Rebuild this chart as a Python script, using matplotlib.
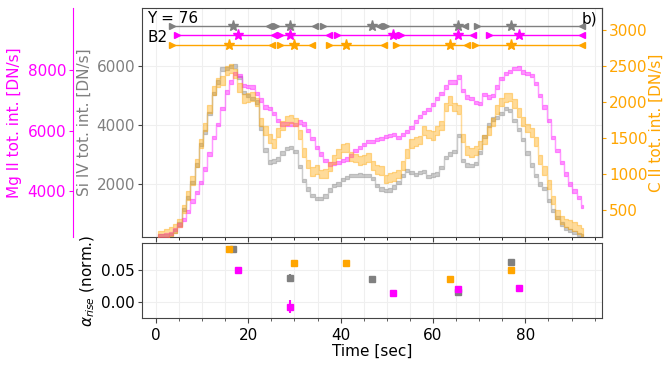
import numpy as np
import matplotlib
matplotlib.use("Agg")
import matplotlib.pyplot as plt
from matplotlib.ticker import MultipleLocator, FormatStrFormatter
import matplotlib.transforms as mtransforms

# ---------------- data ----------------
dt = 0.93
n_pts = 100
time = 0.465 + dt * np.arange(n_pts)

si_iv = [240, 240, 250, 300, 410, 650, 1150, 1550, 2050, 2650,
         3350, 3760, 4380, 5060, 5460, 5900, 5920, 5980, 6000, 5600,
         5100, 5000, 4900, 4780, 3900, 3150, 2750, 2780, 2850, 3050,
         3200, 3250, 3100, 2600, 2110, 1830, 1620, 1500, 1520, 1600,
         1800, 1950, 2000, 2150, 2230, 2280, 2300, 2310, 2300, 2290,
         2200, 1950, 1830, 1770, 1800, 1900, 2060, 2300, 2450, 2400,
         2330, 2380, 2420, 2260, 2310, 2340, 2560, 2900, 3020, 3100,
         3640, 2800, 2650, 2630, 2700, 3080, 3600, 4000, 4200, 4250,
         4400, 4550, 4500, 4150, 3850, 3500, 3050, 2650, 2300, 2000,
         1850, 1450, 1100, 880, 650, 500, 430, 360, 280, 240]

c_ii = [150, 150, 170, 200, 240, 320, 510, 700, 905, 1150,
        1420, 1650, 1905, 2160, 2270, 2300, 2440, 2465, 2395, 2200,
        2045, 2060, 2080, 2000, 1720, 1600, 1490, 1420, 1580, 1670,
        1740, 1765, 1720, 1550, 1300, 1140, 1030, 1060, 1000, 1010,
        1100, 1200, 1280, 1360, 1370, 1240, 1220, 1190, 1200, 1230,
        1120, 1060, 1050, 930, 950, 960, 1000, 1120, 1280, 1420,
        1450, 1470, 1600, 1555, 1530, 1600, 1670, 1930, 2020, 1930,
        1900, 1500, 1330, 1300, 1330, 1400, 1480, 1600, 1720, 1900,
        2000, 2060, 2070, 1980, 1850, 1730, 1640, 1580, 1450, 1200,
        1050, 850, 640, 440, 360, 320, 300, 270, 230, 190]

mg_ii = [2550, 2550, 2570, 2620, 2760, 2900, 3090, 3350, 3690, 3965,
         4295, 4740, 5230, 5780, 6200, 6715, 7260, 7590, 7870, 7800,
         7480, 7450, 7430, 7210, 7000, 6770, 6715, 6550, 6330, 6220,
         6220, 6210, 6200, 6275, 6220, 6000, 5730, 5450, 5230, 5010,
         4900, 4920, 4955, 5010, 5065, 5175, 5350, 5450, 5550, 5650,
         5650, 5700, 5730, 5800, 5835, 5860, 5780, 5870, 5965, 6100,
         6300, 6450, 6600, 6700, 6850, 7045, 7210, 7425, 7590, 7590,
         7755, 7320, 7100, 7045, 6930, 6880, 7175, 7100, 7150, 7425,
         7700, 7870, 7945, 8035, 8050, 7920, 7870, 7810, 7540, 7150,
         6770, 6330, 5780, 5340, 4955, 4575, 4245, 4020, 3800, 3500]

si_iv_err = 55
c_ii_err = 60
mg_ii_err = 55

# intervals (start, peak, end) in seconds
si_start = [3.5, 26.0, 36.1, 49.9, 69.5]
si_peak = [16.7, 29.0, 46.7, 65.4, 76.8]
si_end = [24.5, 34.5, 48.4, 67.0, 92.3]

mg_start = [4.5, 26.9, 39.3, 53.1, 72.2]
mg_peak = [17.7, 29.0, 51.4, 65.4, 78.6]
mg_end = [25.5, 37.4, 51.8, 68.7, 92.3]

c_start = [3.5, 26.9, 37.5, 52.0, 69.1]
c_peak = [15.9, 29.9, 41.2, 63.6, 76.8]
c_end = [25.1, 33.9, 49.3, 67.3, 92.3]

# alpha_rise values at peaks
si_alpha = [0.0835, 0.038, 0.036, 0.016, 0.063]
si_alpha_err = [0.002, 0.007, 0.002, 0.002, 0.004]
c_alpha = [0.0835, 0.062, 0.062, 0.037, 0.050]
c_alpha_err = [0.001, 0.001, 0.005, 0.001, 0.001]
mg_alpha = [0.050, -0.007, 0.014, 0.021, 0.022]
mg_alpha_err = [0.001, 0.010, 0.001, 0.002, 0.001]

# ---------------- style ----------------
GRAY = "#808080"
MAG = "#ff00ff"
ORA = "#ffa500"
FRAME = "#444444"
FS = 11
TL = 3.0   # tick length
TP = 2.0   # tick pad

plt.rcParams["font.family"] = "DejaVu Sans"
plt.rcParams["font.size"] = FS

fig = plt.figure(figsize=(6.64, 3.66), dpi=100)
ax = fig.add_axes([142 / 664, (366 - 237) / 366, 460 / 664, 229 / 366])
axb = fig.add_axes([142 / 664, (366 - 318) / 366, 460 / 664, 75 / 366], sharex=ax)

ax_mg = ax.twinx()
ax_c = ax.twinx()


def band(a, y, err, color, z):
    y = np.asarray(y, float)
    a.fill_between(time, y - err, y + err, step="mid", facecolor=color,
                   alpha=0.4, edgecolor=color, linewidth=0.9, zorder=z)


band(ax, si_iv, si_iv_err, GRAY, 2)
band(ax_c, c_ii, c_ii_err, ORA, 2)
band(ax_mg, mg_ii, mg_ii_err, MAG, 2)

ax.set_xlim(-3, 96.6)
ax.set_ylim(208, 7962)
ax_mg.set_ylim(2507, 10020)
ax_c.set_ylim(123, 3307)

ax_mg.set_zorder(ax.get_zorder() + 1)
ax_c.set_zorder(ax.get_zorder() + 2)
ax_mg.patch.set_visible(False)
ax_c.patch.set_visible(False)

# Si IV axis (left, gray)
ax.set_yticks([2000, 4000, 6000])
ax.tick_params(axis="y", colors=GRAY, labelsize=FS, length=TL, pad=TP)
ax.tick_params(axis="y", which="both", color=FRAME)
ax.set_ylabel("Si IV tot. int. [DN/s]", color=GRAY, fontsize=FS, labelpad=3)
ax.xaxis.set_major_locator(MultipleLocator(20))
ax.xaxis.set_minor_locator(MultipleLocator(5))
ax.tick_params(axis="x", labelbottom=False, color=FRAME)
ax.grid(True, which="major", axis="y", color="#efefef", lw=0.8)
ax.grid(True, which="both", axis="x", color="#efefef", lw=0.8)
ax.set_axisbelow(True)
for s in ax.spines.values():
    s.set_color(FRAME)

# Mg II axis (offset left spine)
ax_mg.spines["left"].set_position(("axes", -0.15))
ax_mg.spines["left"].set_visible(True)
ax_mg.spines["left"].set_color(MAG)
for k in ["right", "top", "bottom"]:
    ax_mg.spines[k].set_visible(False)
ax_mg.yaxis.set_label_position("left")
ax_mg.yaxis.set_ticks_position("left")
ax_mg.set_yticks([4000, 6000, 8000])
ax_mg.tick_params(axis="y", colors=MAG, labelsize=FS, length=TL, pad=TP)
ax_mg.set_ylabel("Mg II tot. int. [DN/s]", color=MAG, fontsize=FS, labelpad=4)

# C II axis (right, orange)
for k in ["left", "top", "bottom"]:
    ax_c.spines[k].set_visible(False)
ax_c.spines["right"].set_color(FRAME)
ax_c.set_yticks([500, 1000, 1500, 2000, 2500, 3000])
ax_c.tick_params(axis="y", colors=ORA, labelsize=FS, length=TL, pad=TP)
ax_c.set_ylabel("C II tot. int. [DN/s]", color=ORA, fontsize=FS, labelpad=1)

# interval markers at the top
trans = mtransforms.blended_transform_factory(ax_c.transData, ax_c.transAxes)
rows = [(si_start, si_peak, si_end, GRAY, 0.921),
        (mg_start, mg_peak, mg_end, MAG, 0.882),
        (c_start, c_peak, c_end, ORA, 0.838)]
for starts, peaks, ends, col, yy in rows:
    for s0, p0, e0 in zip(starts, peaks, ends):
        ax_c.plot([s0, e0], [yy, yy], color=col, lw=1.0, transform=trans,
                  clip_on=False, zorder=5)
        ax_c.plot([s0], [yy], marker=">", ms=4.5, color=col, transform=trans,
                  linestyle="none", zorder=6)
        ax_c.plot([e0], [yy], marker="<", ms=4.5, color=col, transform=trans,
                  linestyle="none", zorder=6)
        ax_c.plot([p0], [yy], marker="*", ms=8, color=col, transform=trans,
                  linestyle="none", zorder=7)

ax_c.text(0.012, 0.985, "Y = 76", transform=ax_c.transAxes, ha="left", va="top",
          fontsize=FS, color="black")
ax_c.text(0.012, 0.905, "B2", transform=ax_c.transAxes, ha="left", va="top",
          fontsize=FS, color="black")
ax_c.text(0.99, 0.985, "b)", transform=ax_c.transAxes, ha="right", va="top",
          fontsize=FS, color="black")

# ---------------- bottom panel ----------------
for pk, al, er, col in [(si_peak, si_alpha, si_alpha_err, GRAY),
                        (c_peak, c_alpha, c_alpha_err, ORA),
                        (mg_peak, mg_alpha, mg_alpha_err, MAG)]:
    axb.errorbar(pk, al, yerr=er, fmt="s", color=col, ms=4, elinewidth=1.5,
                 capsize=0, zorder=3)

axb.set_ylim(-0.025, 0.093)
axb.set_yticks([0.0, 0.05])
axb.yaxis.set_major_formatter(FormatStrFormatter("%.2f"))
axb.xaxis.set_major_locator(MultipleLocator(20))
axb.xaxis.set_minor_locator(MultipleLocator(5))
axb.grid(True, which="major", axis="y", color="#efefef", lw=0.8)
axb.grid(True, which="both", axis="x", color="#efefef", lw=0.8)
axb.set_axisbelow(True)
axb.tick_params(which="both", color=FRAME, labelsize=FS)
axb.tick_params(axis="y", length=TL, pad=TP)
for s in axb.spines.values():
    s.set_color(FRAME)
axb.set_xlabel("Time [sec]", fontsize=FS, labelpad=1)
axb.set_ylabel(r"$\alpha_{rise}$ (norm.)", fontsize=FS, labelpad=3)
ax.set_xlim(-3, 96.6)

fig.savefig("out.png", dpi=100)
